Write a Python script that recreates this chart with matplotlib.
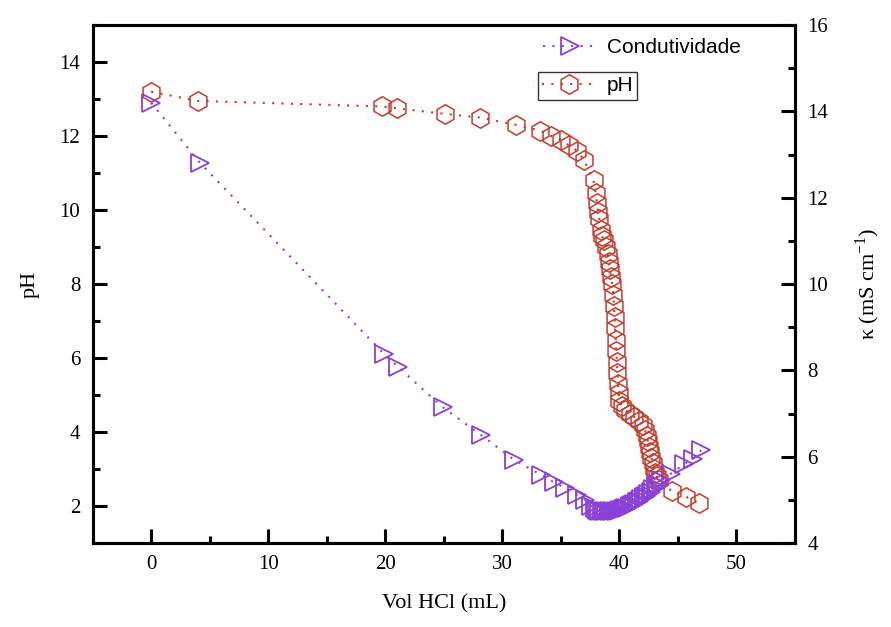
import matplotlib
matplotlib.use('Agg')
import matplotlib.pyplot as plt
from matplotlib.ticker import MultipleLocator

# titration volume (mL) and pH readings
vol_ph = [0.0, 4.0, 19.7, 21.0, 25.1, 28.1, 31.2, 33.2, 34.2, 35.0, 35.7, 36.4,
          37.0, 37.8, 38.0, 38.1, 38.2, 38.3, 38.4, 38.5, 38.7, 38.9, 39.0, 39.1,
          39.2, 39.3, 39.4, 39.5, 39.55, 39.6, 39.65, 39.7, 39.75, 39.8, 39.85,
          39.9, 39.95, 40.0, 40.2, 40.5, 40.9, 41.3, 41.7, 42.0, 42.2, 42.35,
          42.45, 42.55, 42.65, 42.75, 42.85, 42.95, 43.05, 43.2, 43.4, 44.5,
          45.7, 46.8]
ph = [13.2, 12.95, 12.8, 12.75, 12.6, 12.5, 12.3, 12.15, 12.0, 11.9, 11.75, 11.6,
      11.35, 10.8, 10.45, 10.2, 9.95, 9.75, 9.45, 9.3, 9.2, 9.0, 8.8, 8.6,
      8.4, 8.2, 8.0, 7.7, 7.4, 7.1, 6.8, 6.5, 6.2, 5.9, 5.6,
      5.3, 5.05, 4.85, 4.7, 4.6, 4.5, 4.4, 4.3, 4.2, 4.05, 3.9,
      3.75, 3.6, 3.45, 3.3, 3.15, 3.0, 2.9, 2.8, 2.7, 2.4,
      2.25, 2.08]

# titration volume (mL) and conductivity readings (mS/cm)
vol_k = [0.0, 4.2, 19.9, 21.1, 24.9, 28.2, 31.0, 33.3, 34.4, 35.4, 36.4, 37.1,
         37.6, 37.9, 38.1, 38.3, 38.5, 38.7, 38.9, 39.1, 39.3, 39.5, 39.7, 39.9,
         40.1, 40.3, 40.5, 40.7, 40.9, 41.1, 41.3, 41.5, 41.7, 41.9, 42.1, 42.3,
         42.5, 42.7, 42.9, 43.1, 43.3, 43.6, 44.4, 45.5, 46.3, 47.0]
kappa = [14.2, 12.8, 8.38, 8.08, 7.15, 6.5, 5.93, 5.58, 5.41, 5.27, 5.11, 5.0,
         4.85, 4.8, 4.77, 4.75, 4.74, 4.73, 4.73, 4.73, 4.73, 4.74, 4.74, 4.75,
         4.76, 4.78, 4.8, 4.82, 4.85, 4.88, 4.91, 4.94, 4.98, 5.02, 5.06, 5.1,
         5.14, 5.19, 5.24, 5.3, 5.36, 5.45, 5.6, 5.82, 5.95, 6.15]

red = '#c43c2c'
purple = '#8a3fd8'
serif = 'Liberation Serif'

fig = plt.figure(figsize=(8.91, 6.27), dpi=100)
ax = fig.add_axes([0.104, 0.134, 0.788, 0.826])
ax2 = ax.twinx()

dots = (0, (1, 3.5))
lph, = ax.plot(vol_ph, ph, color=red, ls=dots, lw=1.5, marker='h', ms=14,
               mfc='none', mec=red, mew=1.1, label='pH')
lk, = ax2.plot(vol_k, kappa, color=purple, ls=dots, lw=1.5, marker='>', ms=13,
               mfc='none', mec=purple, mew=1.3, label='Condutividade')

ax.set_xlim(-5, 55)
ax.set_ylim(1, 15)
ax2.set_ylim(4, 16)

ax.xaxis.set_major_locator(MultipleLocator(10))
ax.xaxis.set_minor_locator(MultipleLocator(5))
ax.yaxis.set_major_locator(MultipleLocator(2))
ax.yaxis.set_minor_locator(MultipleLocator(1))
ax2.yaxis.set_major_locator(MultipleLocator(2))
ax2.yaxis.set_minor_locator(MultipleLocator(1))

for a in (ax, ax2):
    for s in a.spines.values():
        s.set_linewidth(2.2)
    a.tick_params(which='major', direction='in', length=10, width=2.2,
                  labelsize=15, pad=9)
    a.tick_params(which='minor', direction='in', length=5, width=2.2)
    for lab in a.get_xticklabels() + a.get_yticklabels():
        lab.set_fontfamily(serif)
ax.tick_params(axis='x', which='both', top=False)
ax.tick_params(axis='y', which='both', right=False)
ax2.tick_params(axis='y', which='both', left=False)

ax.set_xlabel('Vol HCl (mL)', fontsize=16, fontfamily=serif, labelpad=14)
ax.set_ylabel('pH', fontsize=16, fontfamily=serif, labelpad=14)
ax2.set_ylabel(r'$\mathregular{\kappa}$ (mS cm$^{\mathregular{-1}}$)', fontsize=16,
               fontfamily=serif, labelpad=18)

# legend: conductivity entry unboxed, pH entry boxed
leg1 = ax2.legend(handles=[lk], loc='center left', bbox_to_anchor=(0.62, 0.956),
                  frameon=False, prop={'family': 'Liberation Sans', 'size': 15},
                  handlelength=2.6, handletextpad=0.5, borderpad=0.2)
ax2.add_artist(leg1)
leg2 = ax2.legend(handles=[lph], loc='upper left', bbox_to_anchor=(0.634, 0.909),
                  frameon=True, fancybox=False, edgecolor='black',
                  prop={'family': 'Liberation Sans', 'size': 15},
                  handlelength=2.6, handletextpad=0.5, borderpad=0.2,
                  borderaxespad=0)
leg2.get_frame().set_linewidth(1.0)

plt.savefig('out.png', dpi=100)
